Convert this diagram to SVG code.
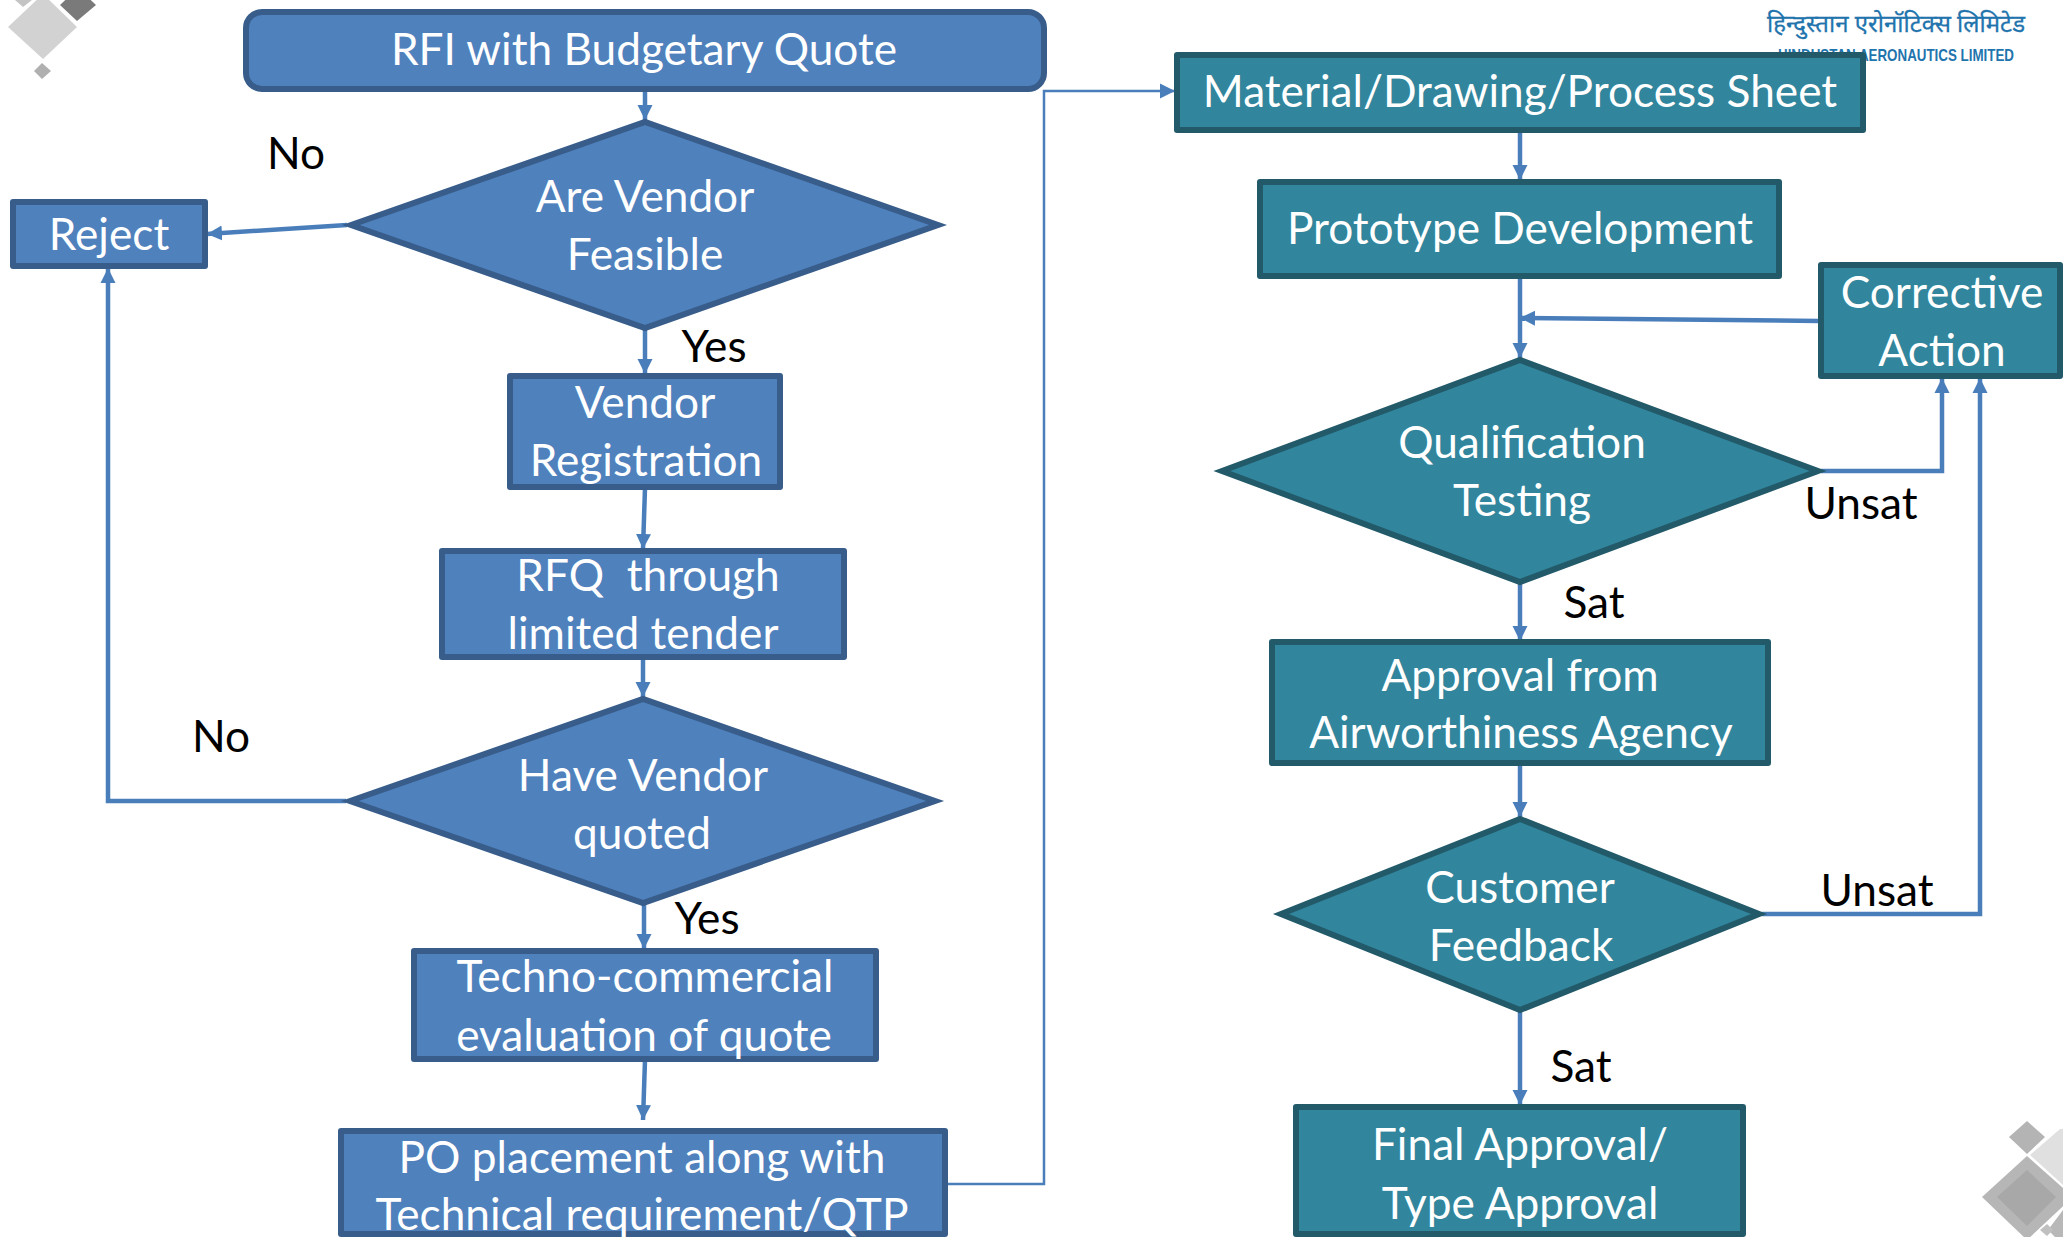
<svg xmlns="http://www.w3.org/2000/svg" width="2063" height="1237" viewBox="0 0 2063 1237">
<style>
text{font-family:"Lato","Carlito","Noto Sans",sans-serif;font-size:44.200px;text-anchor:middle}
.w{fill:#fff}
.k{fill:#000}
.b{fill:#4f81bd;stroke:#385d8a;stroke-width:6;stroke-linejoin:round}
.t{fill:#31859c;stroke:#235a69;stroke-width:6;stroke-linejoin:round}
polygon.b,polygon.t{stroke-linejoin:miter}
.c{fill:none;stroke:#4a7ebb;stroke-width:4.500;marker-end:url(#a)}
.n{fill:none;stroke:#4a7ebb;stroke-width:2.500;marker-end:url(#a)}
</style>
<defs><marker id="a" markerUnits="userSpaceOnUse" markerWidth="16" markerHeight="16" refX="15" refY="8" orient="auto"><path d="M0 .5L15 8L0 15.500z" fill="#4a7ebb"/></marker></defs>
<rect width="2063" height="1237" fill="#fff"/>
<g id="decor">
<polygon points="8,27 43,-6 77,27 43,59" fill="#d2d2d3"/>
<polygon points="60,5 78,-12 96,5 77,21" fill="#7a7a7a"/>
<polygon points="15,0 32,0 23,7" fill="#c4c4c4"/>
<polygon points="34,71 42,63 51,71 42,79" fill="#b0b0b0"/>
<polygon points="2009,1137 2027,1121 2045,1137 2027,1154" fill="#b4b4b4"/>
<polygon points="2030,1155 2060,1129 2063,1129 2063,1185" fill="#e0e0e0"/>
<polygon points="1982,1197 2027,1156 2073,1197 2027,1240" fill="#b6b6b6"/>
<polygon points="1997,1197 2027,1170 2056,1197 2027,1226" fill="#a8a8a8"/>
<polygon points="2048,1230 2063,1210 2063,1237 2055,1237" fill="#b8b8b8"/>
<polygon points="2040,1230 2047,1224 2053,1230 2047,1236" fill="#c0c0c0"/>
</g>
<g id="logo">
<text x="1896" y="32" style="font-family:'Noto Sans','Noto Sans Devanagari','Liberation Sans',sans-serif;font-size:24px;fill:#1f74ad;stroke:#1f74ad;stroke-width:.3" textLength="258" lengthAdjust="spacingAndGlyphs">हिन्दुस्तान एरोनॉटिक्स लिमिटेड</text>
<text x="1896" y="61" style="font-family:'Liberation Sans',sans-serif;font-weight:bold;font-size:17px;fill:#1f74ad" textLength="236" lengthAdjust="spacingAndGlyphs">HINDUSTAN AERONAUTICS LIMITED</text>
</g>
<g id="connectors">
<path class="c" d="M645 91V120"/>
<path class="c" d="M347 225L207 234"/>
<path class="c" d="M645 329V374"/>
<path class="c" d="M645 488L643 549"/>
<path class="c" d="M643 658V697"/>
<path class="c" d="M346 801H108V268"/>
<path class="c" d="M644 905V949"/>
<path class="c" d="M645 1060L643 1120"/>
<path class="n" d="M946 1184H1044V91H1175"/>
<path class="c" d="M1520 131V180"/>
<path class="c" d="M1520 276V358"/>
<path class="c" d="M1819 321L1520 318"/>
<path class="c" d="M1821 471H1942V378"/>
<path class="c" d="M1520 584V641"/>
<path class="c" d="M1520 764V817"/>
<path class="c" d="M1520 1012V1105"/>
<path class="c" d="M1762 914H1980V378"/>
</g>
<g id="rfi"><rect class="b" x="246" y="12" width="798" height="77" rx="16"/><text class="w" x="644" y="65">RFI with Budgetary Quote</text></g>
<g id="reject"><rect class="b" x="13" y="202" width="192" height="64"/><text class="w" x="109" y="250">Reject</text></g>
<g id="feasible"><polygon class="b" points="351,225 645,122 938,225 645,328"/><text class="w" x="645" y="212">Are Vendor</text><text class="w" x="645" y="270">Feasible</text></g>
<g id="registration"><rect class="b" x="510" y="376" width="270" height="111"/><text class="w" x="645" y="418">Vendor</text><text class="w" x="646" y="476">Registration</text></g>
<g id="rfq"><rect class="b" x="442" y="551" width="402" height="106"/><text class="w" x="648" y="591" xml:space="preserve">RFQ  through</text><text class="w" x="643" y="649">limited tender</text></g>
<g id="quoted"><polygon class="b" points="350,801 643,699 935,801 643,903"/><text class="w" x="643" y="791">Have Vendor</text><text class="w" x="642" y="849">quoted</text></g>
<g id="techno"><rect class="b" x="414" y="951" width="462" height="108"/><text class="w" x="645" y="992">Techno-commercial</text><text class="w" x="644" y="1051">evaluation of quote</text></g>
<g id="po"><rect class="b" x="341" y="1131" width="604" height="103"/><text class="w" x="642" y="1173">PO placement along with</text><text class="w" x="642" y="1230">Technical requirement/QTP</text></g>
<g id="material"><rect class="t" x="1177" y="55" width="686" height="75"/><text class="w" x="1520" y="107">Material/Drawing/Process Sheet</text></g>
<g id="prototype"><rect class="t" x="1260" y="182" width="519" height="94"/><text class="w" x="1520" y="244">Prototype Development</text></g>
<g id="corrective"><rect class="t" x="1821" y="265" width="239" height="111"/><text class="w" x="1942" y="308">Corrective</text><text class="w" x="1942" y="366">Action</text></g>
<g id="qualification"><polygon class="t" points="1222,471 1520,360 1818,471 1520,582"/><text class="w" x="1522" y="458">Qualification</text><text class="w" x="1522" y="516">Testing</text></g>
<g id="approval"><rect class="t" x="1272" y="642" width="496" height="121"/><text class="w" x="1520" y="691">Approval from</text><text class="w" x="1521" y="748">Airworthiness Agency</text></g>
<g id="customer"><polygon class="t" points="1281,914 1520,819 1759,914 1520,1010"/><text class="w" x="1520" y="903">Customer</text><text class="w" x="1521" y="961">Feedback</text></g>
<g id="final"><rect class="t" x="1296" y="1107" width="447" height="127"/><text class="w" x="1520" y="1160">Final Approval/</text><text class="w" x="1520" y="1219">Type Approval</text></g>
<g id="labels">
<text class="k" x="296" y="169">No</text><text class="k" x="714" y="362">Yes</text><text class="k" x="221" y="752">No</text><text class="k" x="707" y="934">Yes</text><text class="k" x="1861" y="519">Unsat</text><text class="k" x="1594" y="618">Sat</text><text class="k" x="1877" y="906">Unsat</text><text class="k" x="1581" y="1082">Sat</text>
</g>
</svg>
